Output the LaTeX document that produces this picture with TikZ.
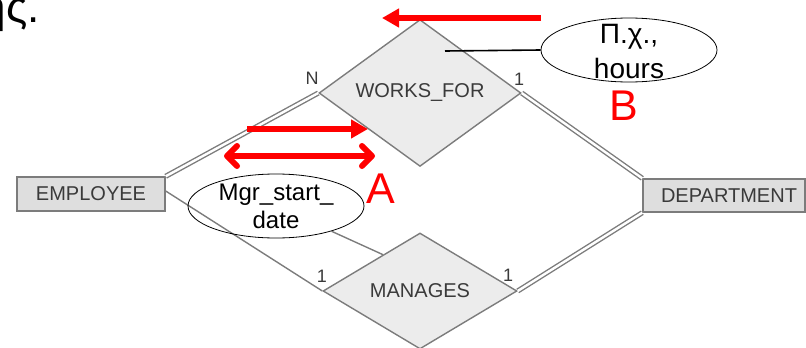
\documentclass[tikz,border=0pt]{standalone}
\usepackage{fontspec}
\setmainfont{Liberation Sans}
\usetikzlibrary{shapes.geometric,arrows.meta,calc}
\definecolor{dfill}{HTML}{ECECEC}
\definecolor{bfill}{HTML}{DEDEDE}
\definecolor{edgec}{HTML}{7C7C7C}
\definecolor{txtc}{HTML}{3A3A3A}
\definecolor{redc}{HTML}{FF0000}
\begin{document}
\begin{tikzpicture}[x=1pt,y=-1pt,
  rel/.style={diamond,draw=edgec,fill=dfill,line width=1.4pt,inner sep=0pt,
    font=\fontsize{20}{24}\selectfont,text=txtc},
  ent/.style={rectangle,draw=edgec,fill=bfill,line width=1.4pt,inner sep=0pt,
    font=\fontsize{20}{24}\selectfont,text=txtc},
  attr/.style={ellipse,draw=black,line width=0.8pt,inner sep=0pt,minimum width=176pt,minimum height=64pt},
  card/.style={font=\fontsize{18}{20}\selectfont,text=txtc,inner sep=0pt},
  dbl/.style={draw=edgec,double=white,line width=1.4pt,double distance=2.4pt},
  sgl/.style={draw=edgec,line width=1.4pt},
  redarr/.style={draw=redc,line width=6pt},
  bigred/.style={font=\fontsize{43}{45}\selectfont,text=redc,inner sep=0pt}
]
\useasboundingbox (0,0) rectangle (806,348);
\node[rel,minimum width=202pt,minimum height=124pt] (wf) at (420,93) {WORKS\_FOR};
\node[rel,minimum width=194pt,minimum height=116pt] (man) at (420,291) {MANAGES};
\node[ent,minimum width=148pt,minimum height=34pt] (emp) at (91,194) {EMPLOYEE};
\node[ent,minimum width=162pt,minimum height=33pt] (dep) at (724,195.5) {\hspace*{10pt}DEPARTMENT};

\draw[dbl] (emp.north east) -- (wf.west);
\draw[sgl] ([yshift=3pt]emp.east) -- (man.west);
\draw[dbl] (wf.east) -- (dep.north west);
\draw[dbl] (man.east) -- (dep.south west);

\node[attr] (mgr) at (276,206) {};
\node[align=center,inner sep=0pt,font=\fontsize{24}{28}\selectfont] (mgrt) at (276,206) {Mgr\_start\_\\date};
\draw[sgl] (mgr) -- ($(man.west)!0.62!(man.north)$);

\node[attr] (hrs) at (629,50) {};
\node[align=center,inner sep=0pt,font=\fontsize{28}{35}\selectfont] (hrst) at (629,52) {Π.χ.,\\hours};
\coordinate (hx) at (445,51);
\draw[black,line width=1.6pt] (hx) -- (hrs.west);

\node[card] (cn) at (312,78.5) {N};
\node[card] (c1) at (519,79) {1};
\node[card] (c2) at (322,276) {1};
\node[card] (c3) at (508,275) {1};

\node[bigred] (la) at (381,189) {A};
\node[bigred] (lb) at (624,106) {B};

\coordinate (r1a) at (541,18);
\coordinate (r1b) at (382,18);
\draw[redarr,-{Triangle[length=17pt,width=18pt]}] (r1a) -- (r1b);
\coordinate (r2a) at (247,129);
\coordinate (r2b) at (368,129);
\draw[redarr,-{Triangle[length=17pt,width=18pt]}] (r2a) -- (r2b);
\coordinate (r3a) at (224,156);
\coordinate (r3b) at (375,156);
\draw[redarr,line cap=round,{Straight Barb[round,length=10pt,width=20pt]}-{Straight Barb[round,length=10pt,width=20pt]}] (r3a) -- (r3b);

\node[anchor=base east,inner sep=0pt,font=\fontsize{44}{48}\selectfont] (gr) at (40,23) {ης.};
\end{tikzpicture}
\end{document}
